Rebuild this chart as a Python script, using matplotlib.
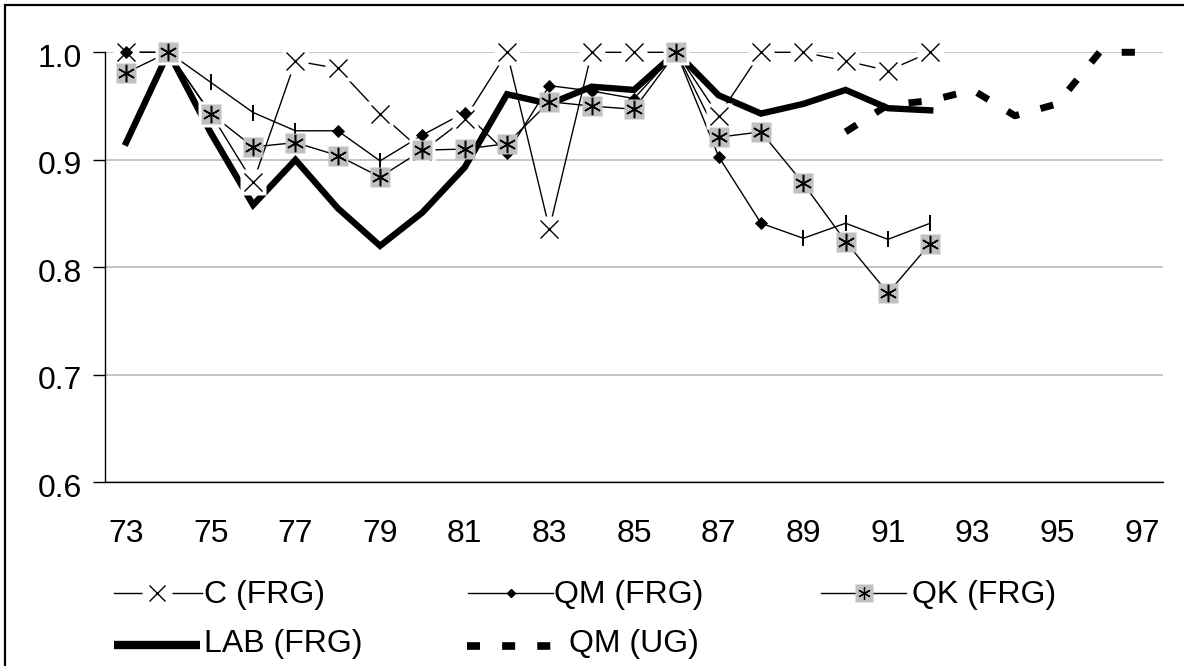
import matplotlib
matplotlib.use("Agg")
import matplotlib.pyplot as plt
from matplotlib.lines import Line2D
from matplotlib.patches import Rectangle
from matplotlib.ticker import FormatStrFormatter
from matplotlib.transforms import ScaledTranslation

plt.rcParams['font.family'] = ['Liberation Sans', 'DejaVu Sans']

# yearly ratios, West German series 1973-1992, UG series 1990-1997
years = list(range(73, 98))
frg_years = list(range(73, 93))
c_frg = [1.0, 1.0, 0.943, 0.879, 0.992, 0.985, 0.943, 0.908, 0.938, 1.0,
         0.836, 1.0, 1.0, 1.0, 0.941, 1.0, 1.0, 0.992, 0.983, 1.0]
qm_frg = [1.0, 1.0, 0.972, 0.944, 0.927, 0.927, 0.899, 0.923, 0.944, 0.906,
          0.969, 0.964, 0.957, 1.0, 0.903, 0.841, 0.827, 0.841, 0.826, 0.841]
qk_frg = [0.981, 1.0, 0.943, 0.912, 0.916, 0.904, 0.884, 0.909, 0.910, 0.915,
          0.954, 0.950, 0.947, 1.0, 0.921, 0.926, 0.878, 0.824, 0.776, 0.822]
lab_frg = [0.916, 1.0, 0.925, 0.858, 0.900, 0.855, 0.820, 0.851, 0.893, 0.961,
           0.952, 0.968, 0.965, 1.0, 0.960, 0.943, 0.952, 0.965, 0.948, 0.946]
ug_years = list(range(90, 98))
qm_ug = [0.926, 0.951, 0.955, 0.965, 0.941, 0.952, 1.0, 1.0]

yticks = [0.6, 0.7, 0.8, 0.9, 1.0]
xticks = years[::2]

# QM (FRG) points shown with a bar instead of the diamond
qm_bar_years = [75, 76, 77, 79, 89, 90, 91, 92]

GRID = '#c0c0c0'
FS = 23
W, H = 1184, 666

fig = plt.figure(figsize=(W / 100, H / 100), dpi=100)
ax = fig.add_axes([105 / W, 1 - 482.3 / H, 1058 / W, 430 / H])

ax.set_xlim(72.5, 97.5)
ax.set_ylim(0.6, 1.0)
ax.set_yticks(yticks)
ax.set_xticks(xticks)
ax.yaxis.set_major_formatter(FormatStrFormatter('%.1f'))
ax.tick_params(axis='y', length=8.6, width=1, pad=8, labelsize=FS)
ax.tick_params(axis='x', length=0, pad=26.5, labelsize=FS)
for lbl in ax.get_yticklabels():
    lbl.set_transform(lbl.get_transform() + ScaledTranslation(0, -3 / 100, fig.dpi_scale_trans))
for s in ['top', 'right']:
    ax.spines[s].set_visible(False)
for s in ['left', 'bottom']:
    ax.spines[s].set_linewidth(1)
ax.yaxis.grid(True, color=GRID, linewidth=1.3)
ax.set_axisbelow(True)

# lines
ax.plot(frg_years, c_frg, color='black', lw=1.0, zorder=2, clip_on=False)
ax.plot(frg_years, qm_frg, color='black', lw=1.0, zorder=2.1, clip_on=False)
ax.plot(frg_years, qk_frg, color='black', lw=1.0, zorder=2.2, clip_on=False)
ax.plot(frg_years, lab_frg, color='black', lw=4.6, zorder=2.3,
        solid_joinstyle='miter', clip_on=False)
ax.plot(ug_years, qm_ug, color='black', lw=5, zorder=2.4, dashes=(1.9, 3.2),
        dash_capstyle='butt', clip_on=False)

# C markers: x on a white box
ax.plot(frg_years, c_frg, ls='none', marker='s', ms=19, mfc='white', mec='none',
        zorder=3, clip_on=False)
ax.plot(frg_years, c_frg, ls='none', marker='x', ms=13.5, mec='black', mew=1.0,
        zorder=3.1, clip_on=False)

# QM markers
dia_x = [y for y in frg_years if y not in qm_bar_years]
dia_y = [v for y, v in zip(frg_years, qm_frg) if y not in qm_bar_years]
bar_x = [y for y in frg_years if y in qm_bar_years]
bar_y = [v for y, v in zip(frg_years, qm_frg) if y in qm_bar_years]
ax.plot(dia_x, dia_y, ls='none', marker='D', ms=6.3, mfc='black', mec='black', mew=0.6,
        zorder=3.5, clip_on=False)
ax.plot(bar_x, bar_y, ls='none', marker='|', ms=11, mec='black', mew=1.4,
        zorder=3.5, clip_on=False)

# QK markers: asterisk on a grey square
ax.plot(frg_years, qk_frg, ls='none', marker='s', ms=14.4, mfc=GRID, mec='none',
        zorder=4, clip_on=False)
ax.plot(frg_years, qk_frg, ls='none', marker=(6, 2, 0), ms=12.5, mec='black', mew=1.1,
        zorder=4.1, clip_on=False)


def fx(x):
    return x / W


def fy(y):
    return 1 - y / H


def leg_line(x0, x1, y, **kw):
    fig.add_artist(Line2D([fx(x0), fx(x1)], [fy(y), fy(y)], transform=fig.transFigure,
                          color='black', **kw))


def leg_mark(x, y, **kw):
    fig.add_artist(Line2D([fx(x)], [fy(y)], transform=fig.transFigure, ls='none', **kw))


def leg_text(x, y, s):
    fig.text(fx(x), fy(y), s, fontsize=FS, ha='left', va='baseline')


# legend, row 1
leg_line(114, 202, 593, lw=1.0)
leg_mark(157, 593, marker='s', ms=21, mfc='white', mec='none')
leg_mark(157, 593, marker='x', ms=12, mec='black', mew=1.0)
leg_text(204, 603.3, 'C (FRG)')

leg_line(468, 553, 593, lw=1.0)
leg_mark(511, 593, marker='D', ms=4.5, mfc='black', mec='black')
leg_text(554, 603.3, 'QM (FRG)')

leg_line(821, 906, 593, lw=1.0)
leg_mark(864, 593, marker='s', ms=13.5, mfc=GRID, mec='none')
leg_mark(864, 593, marker=(6, 2, 0), ms=9, mec='black', mew=0.9)
leg_text(912, 603.3, 'QK (FRG)')

# legend, row 2
leg_line(114, 200, 644.5, lw=6, solid_capstyle='butt')
leg_text(204, 651.7, 'LAB (FRG)')

leg_line(467, 552, 645.5, lw=5.5, dashes=(1.7, 2.9), dash_capstyle='butt')
leg_text(569, 651.7, 'QM (UG)')

# outer chart frame
fig.add_artist(Rectangle((fx(5), -0.05), 1.05, fy(5) + 0.05, transform=fig.transFigure,
                         fill=False, edgecolor='black', lw=1.6))

fig.savefig('out.png', dpi=100)
